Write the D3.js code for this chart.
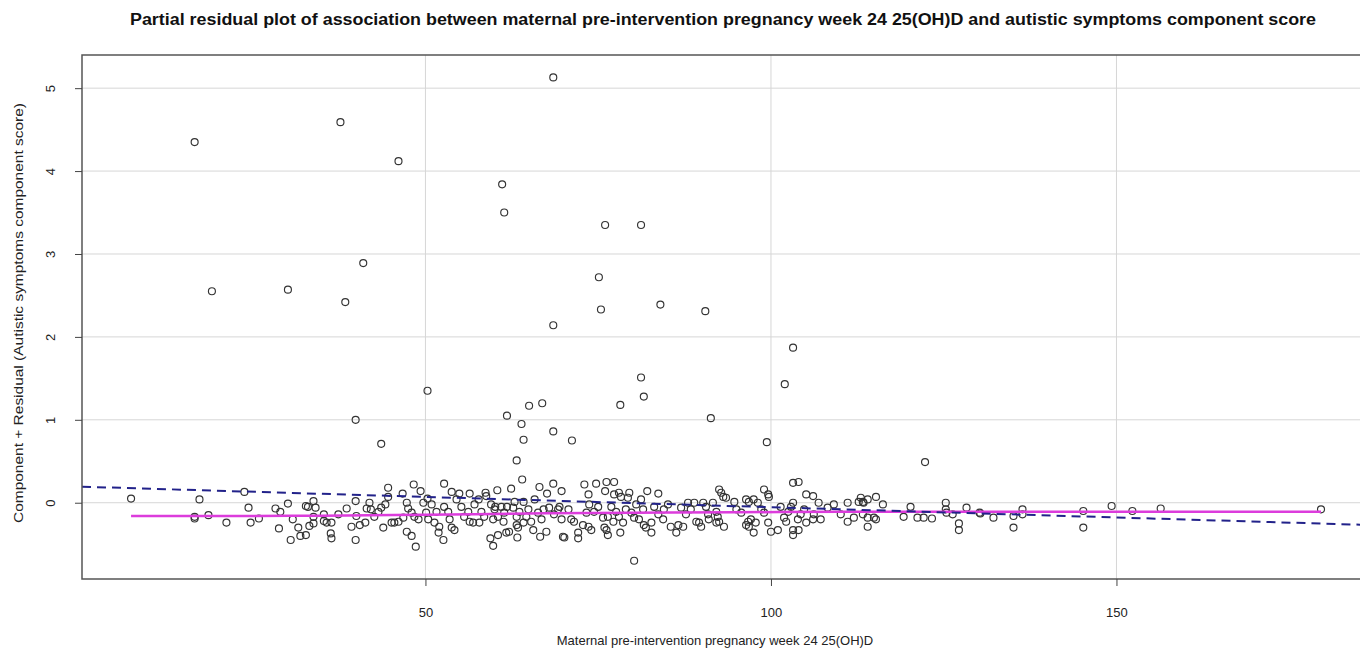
<!DOCTYPE html>
<html>
<head>
<meta charset="utf-8">
<script src="https://cdn.jsdelivr.net/npm/d3@7"></script>
<style>
  body { margin: 0; background: #fff; }
  svg { display: block; font-family: "Liberation Sans", Arial, sans-serif; }
</style>
</head>
<body>
<svg id="chart" width="1360" height="650"></svg>
<script>
const titleText = "Partial residual plot of association between maternal pre-intervention pregnancy week 24 25(OH)D and autistic symptoms component score";
const xLabel = "Maternal pre-intervention pregnancy week 24 25(OH)D";
const yLabel = "Component + Residual (Autistic symptoms component score)";

const xTicks = [50, 100, 150];
const yTicks = [0, 1, 2, 3, 4, 5];

// linear fit (dashed)
const fitIntercept = 0.194;
const fitSlope = -0.00248;

// smoother (magenta)
const smoothX = [7.4, 20, 35, 50, 65, 80, 95, 110, 130, 150, 179.6];
const smoothY = [-0.16, -0.16, -0.157, -0.145, -0.13, -0.12, -0.115, -0.11, -0.11, -0.11, -0.11];

// outlying residuals
const highPoints = [
  [16.6, 4.35], [19.1, 2.55], [30.1, 2.57], [37.7, 4.59], [38.4, 2.42], [41.0, 2.89],
  [39.9, 1.0], [43.6, 0.71], [50.3, 1.35], [46.1, 4.12], [61.1, 3.84], [61.4, 3.5],
  [61.8, 1.05], [63.9, 0.95], [64.2, 0.76], [68.5, 5.13], [65.0, 1.17], [66.9, 1.2],
  [68.5, 0.86], [71.2, 0.75], [68.5, 2.14], [76.0, 3.35], [75.1, 2.72], [75.4, 2.33],
  [81.2, 3.35], [84.0, 2.39], [78.2, 1.18], [81.2, 1.51], [81.6, 1.28], [90.5, 2.31],
  [91.3, 1.02], [103.2, 1.87], [102.0, 1.43], [99.4, 0.73], [122.3, 0.49]
];

// the dense band around zero
const bandLeft = [
  [7.4, 0.05], [17.3, 0.04], [16.6, -0.17], [16.6, -0.19], [18.6, -0.15], [21.2, -0.24],
  [23.8, 0.13], [24.4, -0.06], [24.7, -0.24], [25.9, -0.19], [28.3, -0.07], [29.0, -0.11],
  [30.1, -0.01], [28.8, -0.31], [30.8, -0.2], [30.5, -0.45], [31.6, -0.3], [31.9, -0.4],
  [32.7, -0.39], [32.7, -0.04], [33.0, -0.05], [33.8, 0.02], [34.1, -0.06], [33.8, -0.17],
  [33.2, -0.28], [33.8, -0.25], [35.3, -0.14], [35.3, -0.22], [35.7, -0.24], [36.4, -0.24],
  [36.3, -0.37], [36.4, -0.43], [37.4, -0.14]
];

const bandMid = [
  [38.6, -0.07], [39.9, 0.02], [39.3, -0.29], [39.9, -0.45], [40.5, -0.27], [41.3, -0.24],
  [40.0, -0.16], [41.5, -0.07], [42.1, -0.08], [41.9, 0.0], [42.6, -0.17], [43.2, -0.11],
  [43.6, -0.06], [43.9, -0.3], [44.2, -0.02], [44.6, 0.18], [44.6, 0.07], [45.1, -0.24],
  [45.5, -0.24], [46.1, -0.23], [46.7, 0.11], [46.8, -0.18], [47.3, 0.0], [47.5, -0.07],
  [47.3, -0.35], [48.0, -0.4], [48.3, 0.22], [48.0, -0.12], [48.4, -0.17], [49.0, -0.2],
  [49.3, 0.14], [48.6, -0.53], [49.7, 0.0], [50.3, 0.05], [50.1, -0.12], [50.4, -0.2],
  [50.9, -0.02], [51.6, -0.11], [51.3, -0.24], [52.0, -0.29], [51.9, -0.36], [52.7, 0.23],
  [52.6, -0.45], [52.7, -0.05], [53.3, -0.11], [53.5, -0.2], [53.8, -0.3], [54.2, -0.33],
  [53.8, 0.13], [54.9, 0.11], [54.5, 0.04], [55.2, -0.05], [55.6, -0.17], [56.2, -0.11],
  [56.4, -0.23], [56.9, -0.24], [56.4, 0.11], [57.1, -0.02], [57.7, 0.04], [58.1, -0.11],
  [58.5, -0.17], [57.8, -0.24], [58.7, 0.12], [58.8, 0.08], [60.4, 0.15], [59.5, -0.02],
  [60.0, -0.08], [60.5, -0.17], [59.8, -0.2], [60.1, -0.05], [59.4, -0.43], [59.8, -0.52],
  [60.5, -0.39], [61.0, -0.05], [61.4, -0.12], [61.3, -0.23], [61.8, -0.05], [61.7, -0.36],
  [62.1, -0.35], [62.4, 0.17], [63.2, 0.51], [64.0, 0.28], [62.7, -0.06], [63.2, -0.17],
  [63.6, -0.11], [62.9, 0.01], [64.2, 0.01], [63.2, -0.27], [63.4, -0.3], [63.3, -0.42],
  [64.2, -0.24], [64.6, -0.17], [64.9, -0.08], [65.3, -0.23], [65.6, -0.33], [65.8, 0.04],
  [66.5, 0.19], [66.3, -0.12], [66.8, -0.2], [67.1, -0.08], [66.6, -0.41], [67.5, -0.35],
  [67.6, 0.11], [68.5, 0.23], [67.9, -0.06], [68.6, -0.14], [69.2, -0.08], [69.7, -0.2],
  [69.4, -0.05], [69.7, 0.14], [69.9, -0.41], [70.1, -0.42], [70.7, -0.08], [71.1, -0.2],
  [71.5, -0.23], [72.1, -0.36], [72.1, -0.43], [73.0, 0.22], [73.6, 0.1], [72.8, -0.27],
  [73.6, -0.29], [74.0, -0.33], [73.3, -0.12], [74.4, -0.11], [74.7, 0.23], [73.7, -0.02],
  [75.0, -0.05]
];

const bandRight = [
  [76.2, 0.25], [77.3, 0.25], [76.0, 0.14], [75.7, -0.18], [76.4, -0.17], [75.9, -0.3],
  [76.2, -0.33], [76.4, -0.39], [77.3, 0.1], [78.0, 0.12], [78.3, 0.07], [79.5, 0.12],
  [79.3, 0.06], [76.9, -0.05], [77.6, -0.11], [78.0, -0.17], [77.2, -0.23], [78.6, -0.24],
  [79.0, -0.08], [79.8, -0.12], [80.2, -0.18], [78.2, -0.36], [80.2, -0.7], [80.5, -0.02],
  [81.2, 0.04], [81.5, -0.08], [80.9, -0.2], [81.6, -0.27], [81.9, -0.3], [82.7, -0.24],
  [82.7, -0.36], [82.1, 0.14], [83.7, 0.11], [83.1, -0.05], [83.7, -0.14], [84.4, -0.2],
  [84.5, -0.08], [85.1, -0.02], [85.5, -0.29], [86.3, -0.36], [86.6, -0.27], [87.3, -0.29],
  [87.7, -0.14], [87.0, -0.06], [88.0, 0.0], [88.4, -0.08], [89.2, -0.23], [89.6, -0.24],
  [89.9, -0.29], [88.9, 0.0], [90.2, 0.0], [90.6, -0.05], [90.9, -0.14], [91.0, -0.2],
  [91.6, 0.0], [92.1, -0.11], [92.3, -0.17], [92.1, -0.24], [92.5, -0.23], [93.2, -0.29],
  [92.5, 0.16], [92.8, 0.12], [93.1, 0.07], [93.5, 0.06], [94.7, 0.01], [95.0, -0.08],
  [95.7, -0.12], [96.4, -0.27], [96.7, -0.23], [97.1, -0.2], [97.5, -0.36], [96.8, -0.29],
  [97.8, -0.24], [96.4, 0.04], [96.8, 0.01], [97.5, 0.04], [98.1, 0.0], [98.6, -0.08],
  [99.0, 0.16], [99.6, 0.1], [99.7, 0.07], [99.0, -0.12], [99.6, -0.24], [100.0, -0.35],
  [101.0, -0.33], [101.4, -0.05], [101.9, -0.18], [102.2, -0.23], [102.5, -0.11], [102.9, -0.05],
  [103.2, 0.24], [104.0, 0.25], [103.2, -0.33], [103.2, -0.39], [104.0, -0.33], [103.2, 0.0],
  [103.9, -0.2], [104.3, -0.14], [104.8, -0.08], [105.1, 0.1], [106.1, 0.08], [105.1, -0.24],
  [106.1, -0.2], [106.2, -0.14], [107.2, -0.2], [106.9, 0.0], [108.2, -0.06], [109.1, -0.02],
  [110.1, -0.14], [111.1, 0.0], [111.1, -0.23], [112.0, -0.18], [112.7, 0.01]
];

const bandTail = [
  [113.0, 0.06], [113.3, 0.01], [113.4, 0.0], [114.0, 0.04], [115.2, 0.07], [116.2, -0.02],
  [113.3, -0.14], [114.0, -0.18], [114.9, -0.18], [115.2, -0.2], [114.0, -0.29], [119.2, -0.17],
  [120.2, -0.05], [121.2, -0.18], [122.1, -0.18], [123.3, -0.19], [125.3, 0.0], [125.3, -0.08],
  [125.4, -0.12], [126.3, -0.14], [127.2, -0.25], [127.2, -0.33], [128.3, -0.06], [130.2, -0.12],
  [130.3, -0.13], [132.2, -0.18], [135.1, -0.16], [136.4, -0.08], [136.4, -0.14], [135.1, -0.3],
  [145.2, -0.1], [145.2, -0.3], [149.3, -0.04], [152.3, -0.1], [156.4, -0.07], [179.6, -0.08]
];

const points = bandLeft.concat(bandMid, bandRight, bandTail, highPoints);

const svg = d3.select("#chart");
const plot = { left: 82, right: 1368, top: 55, bottom: 579 };

const x = d3.scaleLinear().domain([0.3, 186.4]).range([plot.left, plot.right]);
const y = d3.scaleLinear().domain([-0.92, 5.4]).range([plot.bottom, plot.top]);

svg.append("clipPath").attr("id", "clip")
  .append("rect")
  .attr("x", plot.left).attr("y", plot.top)
  .attr("width", plot.right - plot.left).attr("height", plot.bottom - plot.top);

// grid
svg.append("g").selectAll("line")
  .data(xTicks).enter().append("line")
  .attr("x1", d => x(d)).attr("x2", d => x(d))
  .attr("y1", plot.top).attr("y2", plot.bottom)
  .attr("stroke", "#d6d6d6").attr("stroke-width", 1);

svg.append("g").selectAll("line")
  .data(yTicks).enter().append("line")
  .attr("x1", plot.left).attr("x2", plot.right)
  .attr("y1", d => y(d)).attr("y2", d => y(d))
  .attr("stroke", "#d6d6d6").attr("stroke-width", 1);

// points
svg.append("g").selectAll("circle")
  .data(points).enter().append("circle")
  .attr("cx", d => x(d[0]))
  .attr("cy", d => y(d[1]))
  .attr("r", 3.5)
  .attr("fill", "none")
  .attr("stroke", "#333")
  .attr("stroke-width", 1.15);

// smoother
const smoothLine = d3.line()
  .x((d, i) => x(smoothX[i]))
  .y(d => y(d))
  .curve(d3.curveMonotoneX);

svg.append("path")
  .datum(smoothY)
  .attr("d", smoothLine)
  .attr("fill", "none")
  .attr("stroke", "#dc3cdc")
  .attr("stroke-width", 2.5);

// linear fit
const xd = x.domain();
svg.append("line")
  .attr("clip-path", "url(#clip)")
  .attr("x1", x(xd[0])).attr("y1", y(fitIntercept + fitSlope * xd[0]))
  .attr("x2", x(xd[1])).attr("y2", y(fitIntercept + fitSlope * xd[1]))
  .attr("stroke", "#22228a")
  .attr("stroke-width", 2)
  .attr("stroke-dasharray", "9,6");

// box
svg.append("rect")
  .attr("x", plot.left).attr("y", plot.top)
  .attr("width", plot.right - plot.left).attr("height", plot.bottom - plot.top)
  .attr("fill", "none").attr("stroke", "#555").attr("stroke-width", 1.5);

// axes
const xAxis = svg.append("g")
  .attr("transform", `translate(0,${plot.bottom})`)
  .call(d3.axisBottom(x).tickValues(xTicks).tickSize(7).tickPadding(22).tickFormat(d3.format("d")));
xAxis.select(".domain").remove();
xAxis.selectAll("line").attr("stroke", "#444");
xAxis.selectAll("text").attr("font-size", 13).attr("fill", "#222").attr("font-family", "Liberation Sans, Arial, sans-serif");

const yAxis = svg.append("g")
  .attr("transform", `translate(${plot.left},0)`)
  .call(d3.axisLeft(y).tickValues(yTicks).tickSize(7).tickFormat(d3.format("d")));
yAxis.select(".domain").remove();
yAxis.selectAll("line").attr("stroke", "#444");
yAxis.selectAll("text")
  .attr("x", null).attr("dy", null)
  .attr("text-anchor", "middle")
  .attr("font-size", 13).attr("fill", "#222")
  .attr("font-family", "Liberation Sans, Arial, sans-serif")
  .attr("transform", "translate(-27,0) rotate(-90)");

// labels
svg.append("text")
  .attr("x", (plot.left + plot.right) / 2 - 2)
  .attr("y", 25)
  .attr("text-anchor", "middle")
  .attr("font-size", 16)
  .attr("font-weight", "bold")
  .attr("fill", "#111")
  .attr("textLength", 1186)
  .attr("lengthAdjust", "spacingAndGlyphs")
  .text(titleText);

svg.append("text")
  .attr("x", 715)
  .attr("y", 645)
  .attr("text-anchor", "middle")
  .attr("font-size", 13)
  .attr("fill", "#222")
  .text(xLabel);

svg.append("text")
  .attr("transform", `translate(23,${(plot.top + plot.bottom) / 2 - 4}) rotate(-90)`)
  .attr("text-anchor", "middle")
  .attr("font-size", 13)
  .attr("fill", "#222")
  .attr("textLength", 420)
  .attr("lengthAdjust", "spacingAndGlyphs")
  .text(yLabel);
</script>
</body>
</html>
